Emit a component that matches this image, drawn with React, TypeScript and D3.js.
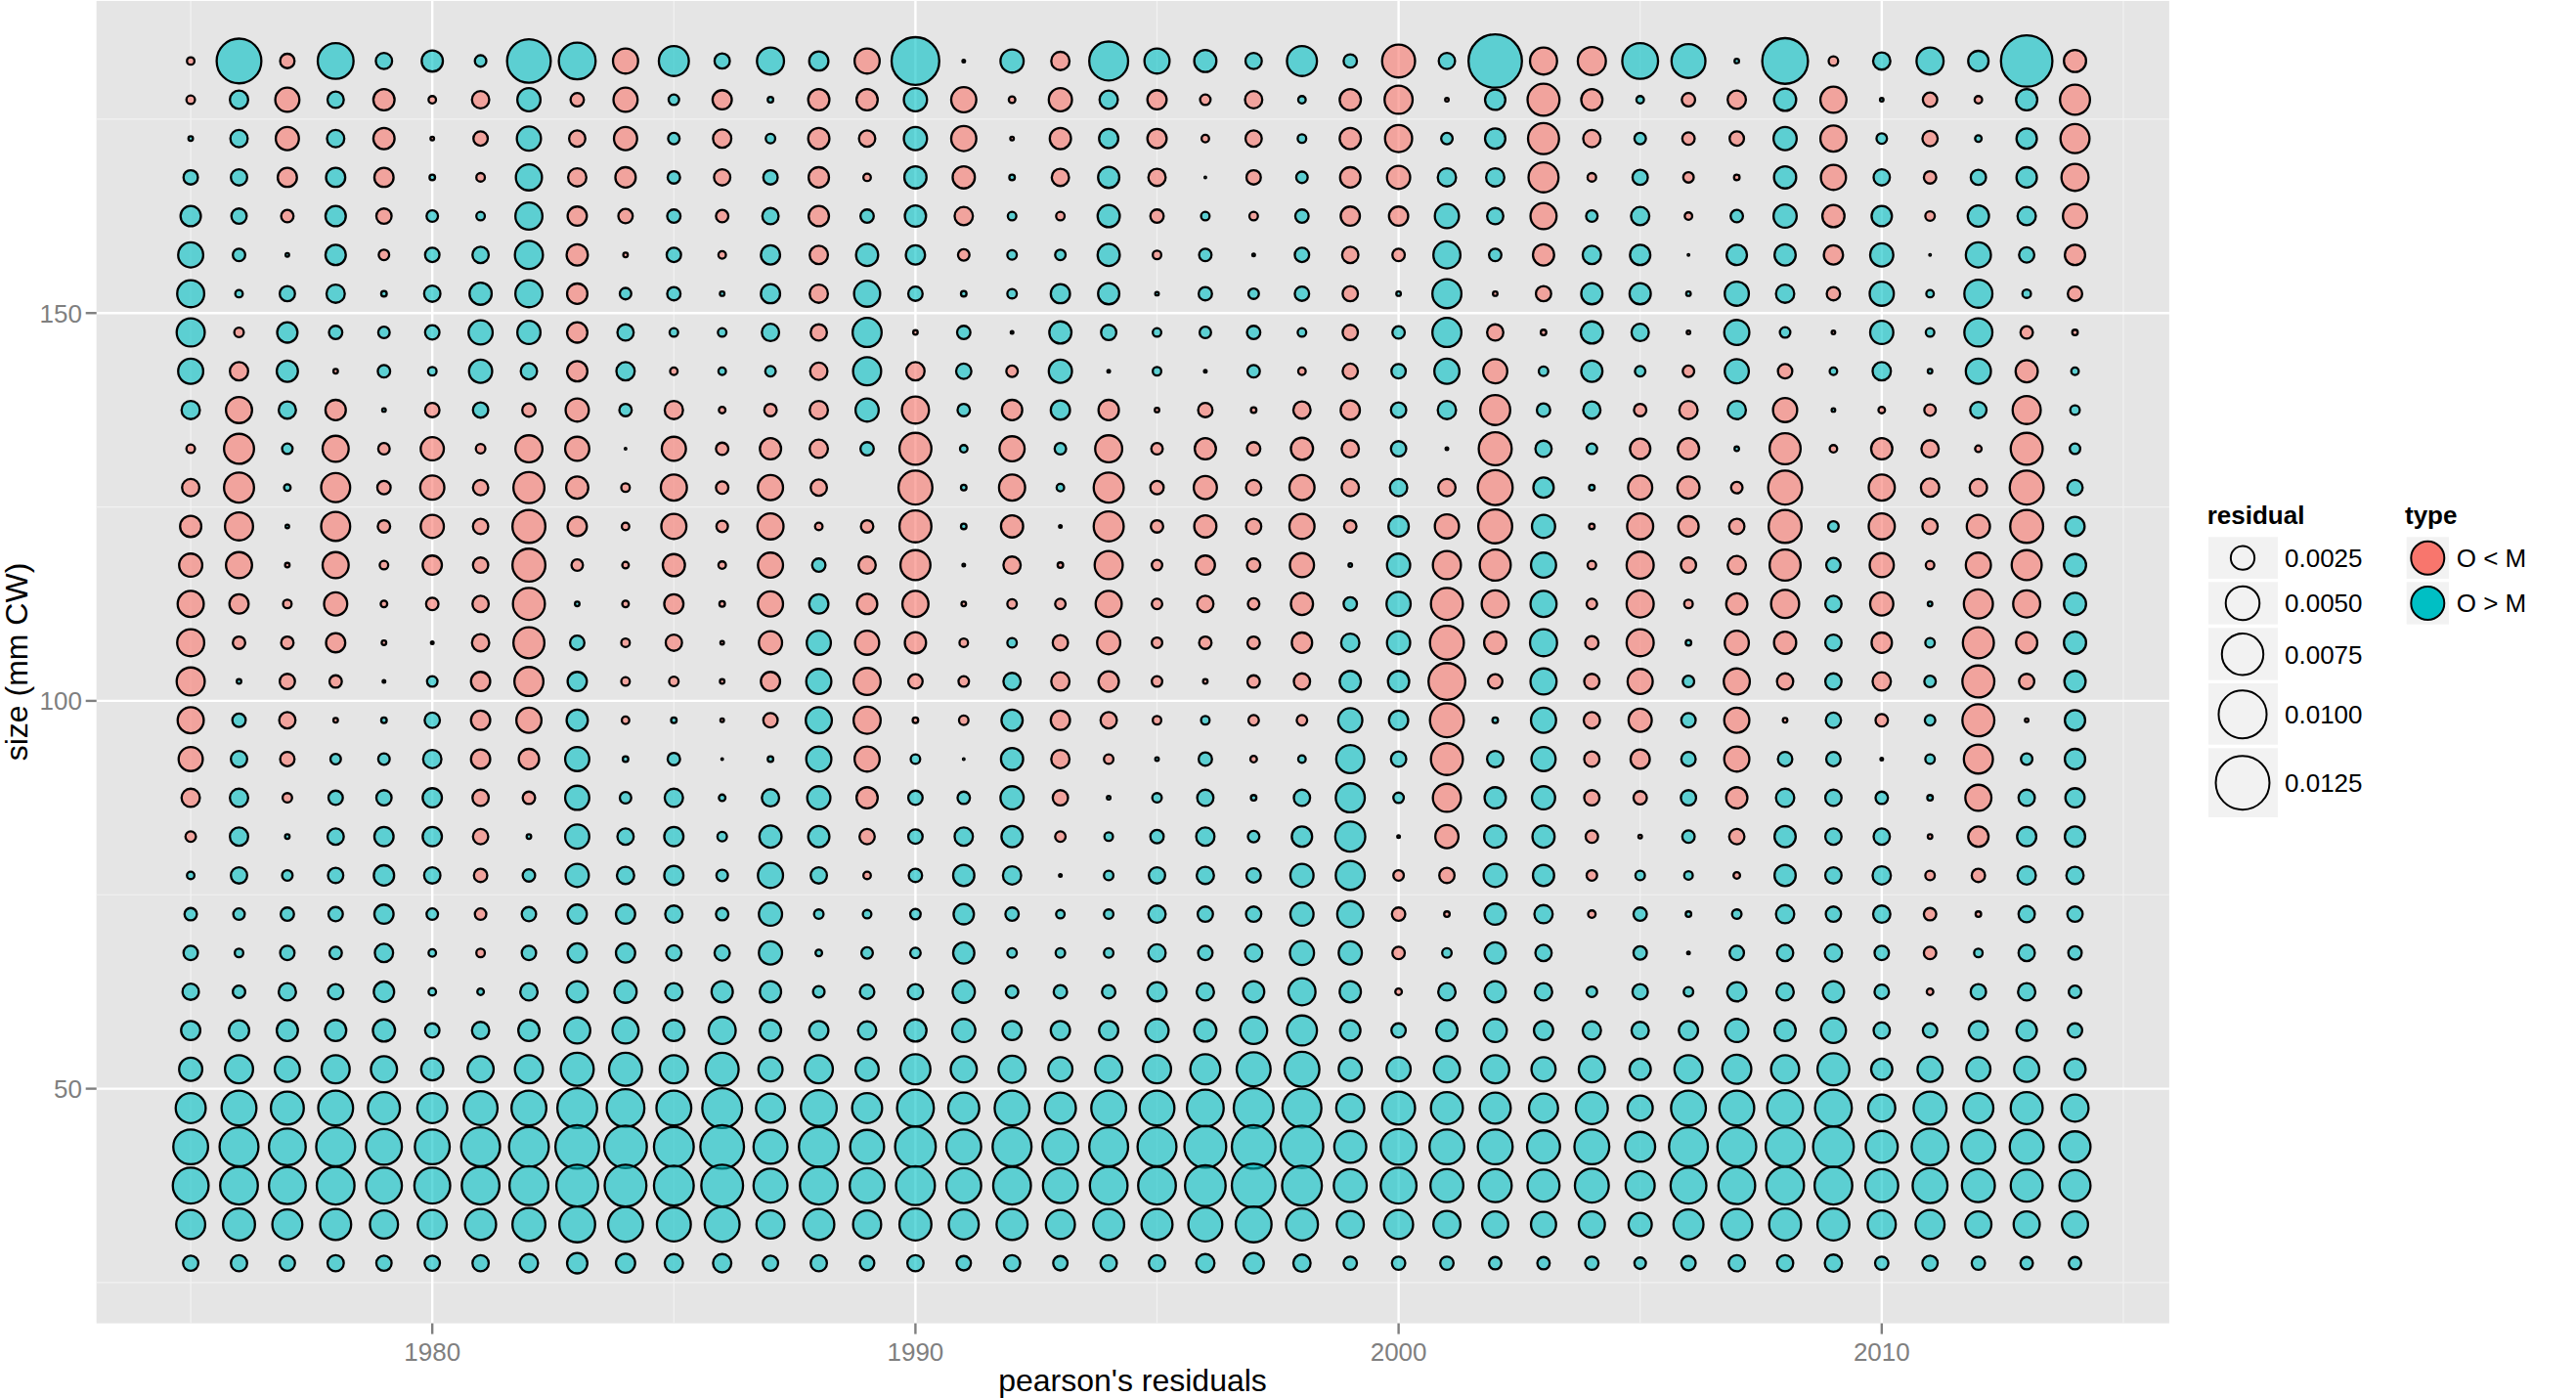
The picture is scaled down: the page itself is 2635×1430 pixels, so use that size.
import React from "react";
import * as d3 from "d3";

// Values: residual x 1e-4; negative = O < M, positive = O > M, 0 = no point.
const years = d3.range(1975, 2015);
const r182_5 = [-2.9,88,-9.8,57,12.4,20.6,6.4,84,60,-28.5,40.3,11,33,17,-28.5,100,.5,24.4,-15.5,67,28.5,22.4,12.4,40.3,8.5,-48.4,12.4,125,-33,-35.4,57,51.2,1.2,92,-4.5,13.9,33,19,116,-22.4];
const r177_5 = [-3.7,15.5,-26.4,12.4,-20.6,-2.9,-13.9,24.4,-8.5,-26.4,5.4,-17,1.7,-20.6,-20.6,24.4,-28.5,-2.3,-24.4,15.5,-17,-5.4,-13.9,2.9,-20.6,-35.4,-.8,19,-45.6,-20.6,2.9,-8.5,-15.5,22.4,-30.7,.8,-9.8,-2.9,20.6,-40.3];
const r172_5 = [1.2,13.9,-24.4,13.9,-20.6,-.8,-9.8,26.4,-12.4,-24.4,6.4,-15.5,4.5,-20.6,-12.4,24.4,-28.5,-.8,-20.6,17,-17,-2.9,-12.4,3.7,-20.6,-33,6.4,19,-43,-13.9,6.4,-7.4,-9.8,24.4,-30.7,5.4,-11,2.3,19,-37.8];
const r167_5 = [9.8,12.4,-17,17,-17,1.7,-3.7,30.7,-15.5,-19,7.4,-12.4,9.8,-19,-2.9,22.4,-22.4,1.7,-13.9,20.6,-13.9,.25,-9.8,6.4,-19,-24.4,15.5,15.5,-40.3,-3.7,11,-5.4,-1.7,22.4,-28.5,12.4,-7.4,11,19,-33];
const r162_5 = [19,11,-7.4,19,-11,6.4,3.7,33,-17,-9.8,8.5,-7.4,12.4,-19,8.5,20.6,-15.5,3.7,-3.7,22.4,-8.5,3.7,-3.7,8.5,-17,-17,26.4,12.4,-30.7,6.4,15.5,-2.9,7.4,24.4,-22.4,19,-4.5,20.6,15.5,-26.4];
const r157_5 = [28.5,7.4,.8,19,-5.4,9.8,12.4,35.4,-20.6,-1.2,9.8,-2.9,17,-15.5,22.4,17,-6.4,4.5,5.4,22.4,-3.7,7.4,.5,9.8,-12.4,-7.4,33,7.4,-20.6,15.5,19,.25,19,20.6,-17,24.4,.25,28.5,11,-19];
const r152_5 = [33,2.9,11,15.5,1.7,12.4,22.4,33,-19,6.4,8.5,1.2,17,-15.5,30.7,9.8,1.7,4.5,17,20.6,.8,8.5,5.4,9.8,-11,1.2,37.8,-1.2,-11,20.6,20.6,1.2,26.4,15.5,-8.5,26.4,2.9,35.4,3.7,-9.8];
const r147_5 = [35.4,-4.5,19,8.5,6.4,9.8,26.4,24.4,-19,12.4,3.7,3.7,13.9,-12.4,37.8,-1.2,8.5,.5,22.4,11,3.7,6.4,8.5,3.7,-11,7.4,37.8,-12.4,-1.7,22.4,13.9,-.8,28.5,5.4,-.8,24.4,3.7,35.4,-7.4,-1.7];
const r142_5 = [28.5,-15.5,20.6,-1.2,7.4,3.7,24.4,12.4,-19,15.5,-2.9,2.9,5.4,-13.9,35.4,-15.5,11,-6.4,24.4,.5,3.7,.5,7.4,-2.9,-11,9.8,28.5,-26.4,4.5,20.6,5.4,-6.4,26.4,-9.8,2.9,15.5,1.2,28.5,-22.4,2.9];
const r137_5 = [15.5,-30.7,13.9,-19,.8,-9.8,11,-8.5,-24.4,7.4,-15.5,-2.3,-7.4,-15.5,24.4,-33,7.4,-19,17,-19,-1.2,-9.8,-1.7,-13.9,-17,11,15.5,-40.3,8.5,13.9,-7.4,-15.5,15.5,-26.4,.8,-2.3,-6.4,12.4,-35.4,4.5];
const r132_5 = [-3.7,-40.3,5.4,-30.7,-6.4,-24.4,-4.5,-33,-26.4,.25,-26.4,-7.4,-20.6,-15.5,8.5,-45.6,2.9,-28.5,6.4,-33,-6.4,-20.6,-8.5,-22.4,-13.9,11,-.5,-48.4,12.4,5.4,-19,-20.6,1.2,-43,-2.9,-20.6,-13.9,-2.3,-45.6,5.4];
const r127_5 = [-13.9,-40.3,2.3,-37.8,-8.5,-26.4,-11,-43,-22.4,-3.7,-30.7,-7.4,-28.5,-12.4,0,-51.2,1.7,-30.7,2.9,-40.3,-8.5,-24.4,-11,-28.5,-13.9,13.9,-13.9,-54,19,1.7,-26.4,-22.4,-6.4,-51.2,0,-30.7,-15.5,-13.9,-51.2,11];
const r122_5 = [-20.6,-35.4,.8,-37.8,-7.4,-24.4,-11,-48.4,-17,-2.9,-28.5,-6.4,-30.7,-2.9,-7.4,-45.6,1.7,-22.4,.5,-40.3,-7.4,-22.4,-11,-28.5,-7.4,19,-26.4,-51.2,24.4,-1.7,-30.7,-19,-11,-48.4,5.4,-30.7,-11,-24.4,-48.4,17];
const r117_5 = [-24.4,-30.7,-1.2,-30.7,-3.7,-17,-11,-48.4,-6.4,-2.3,-22.4,-2.9,-28.5,8.5,-13.9,-40.3,.5,-13.9,-1.7,-35.4,-5.4,-17,-8.5,-26.4,.8,24.4,-35.4,-43,28.5,-3.7,-33,-11,-15.5,-43,9.8,-26.4,-3.7,-28.5,-40.3,22.4];
const r112_5 = [-30.7,-17,-3.7,-24.4,-2.3,-7.4,-12.4,-45.6,1.2,-2.3,-17,-1.7,-28.5,17,-19,-30.7,-1.2,-4.5,-5.4,-30.7,-5.4,-12.4,-6.4,-22.4,8.5,26.4,-45.6,-33,30.7,-5.4,-33,-3.7,-20.6,-35.4,12.4,-24.4,1.2,-37.8,-33,22.4];
const r107_5 = [-33,-7.4,-7.4,-17,-1.2,-.5,-13.9,-43,9.8,-3.7,-12.4,-.8,-24.4,26.4,-26.4,-20.6,-3.7,4.5,-11,-24.4,-5.4,-7.4,-7.4,-19,15.5,24.4,-51.2,-22.4,33,-8.5,-33,1.7,-26.4,-22.4,12.4,-19,4.5,-43,-20.6,22.4];
const r102_5 = [-35.4,1.2,-11,-7.4,.5,5.4,-17,-37.8,17,-3.7,-4.5,-1.2,-17,28.5,-33,-9.8,-5.4,13.9,-15.5,-19,-5.4,-1.2,-7.4,-12.4,20.6,20.6,-60,-9.8,30.7,-11,-28.5,6.4,-30.7,-12.4,12.4,-15.5,6.4,-45.6,-11,20.6];
const r97_5 = [-30.7,8.5,-12.4,-1.2,1.7,11,-17,-28.5,20.6,-2.9,1.7,-.8,-9.8,30.7,-33,-1.7,-4.5,20.6,-17,-12.4,-3.7,3.7,-5.4,-5.4,26.4,17,-51.2,1.7,28.5,-12.4,-24.4,9.8,-28.5,-1.2,11,-7.4,5.4,-45.6,-.8,19];
const r92_5 = [-26.4,12.4,-9.8,5.4,6.4,15.5,-17,-19,26.4,1.7,7.4,.25,1.7,28.5,-28.5,4.5,.25,22.4,-15.5,-4.5,.8,8.5,-2.3,2.9,35.4,11,-45.6,12.4,26.4,-11,-17,9.8,-28.5,9.8,9.8,.5,4.5,-37.8,6.4,19];
const r87_5 = [-15.5,15.5,-4.5,9.8,11,17,-12.4,-7.4,26.4,6.4,15.5,2.3,13.9,24.4,-20.6,9.8,7.4,24.4,-11,.8,4.5,12.4,1.7,12.4,37.8,5.4,-35.4,20.6,24.4,-11,-8.5,11,-20.6,15.5,12.4,7.4,1.7,-30.7,12.4,17];
const r82_5 = [-5.4,15.5,1.2,12.4,17,17,-11,1.2,26.4,12.4,17,4.5,22.4,20.6,-11,9.8,15.5,20.6,-5.4,3.7,8.5,15.5,6.4,19,40.3,.5,-24.4,22.4,22.4,-7.4,-.8,7.4,-11,20.6,12.4,12.4,-1.2,-19,17,19];
const r77_5 = [2.9,12.4,5.4,11,19,12.4,-8.5,7.4,24.4,13.9,17,6.4,28.5,12.4,-2.9,8.5,20.6,15.5,.5,4.5,12.4,13.9,9.8,24.4,37.8,-5.4,-11,24.4,20.6,-5.4,4.5,3.7,-2.3,20.6,12.4,15.5,-4.5,-8.5,15.5,13.9];
const r72_5 = [7.4,6.4,8.5,9.8,17,6.4,-6.4,9.8,17,17,13.9,7.4,24.4,4.5,3.7,5.4,19,8.5,3.7,4.5,13.9,11,11,24.4,30.7,-8.5,-1.7,20.6,15.5,-2.9,8.5,1.7,4.5,15.5,11,13.9,-7.4,-1.7,12.4,11];
const r67_5 = [9.8,3.7,9.8,7.4,15.5,2.9,-3.7,9.8,17,17,11,11,24.4,2.3,6.4,5.4,20.6,4.5,4.5,4.5,13.9,9.8,13.9,26.4,24.4,-7.4,4.5,20.6,12.4,0,8.5,.5,9.8,12.4,13.9,9.8,-7.4,3.7,12.4,8.5];
const r62_5 = [12.4,7.4,13.9,11,19,2.9,2.3,13.9,20.6,22.4,13.9,20.6,20.6,6.4,9.8,11,22.4,7.4,8.5,8.5,17,13.9,20.6,33,20.6,-2.3,13.9,20.6,13.9,5.4,11,4.5,17,13.9,20.6,9.8,-2.3,11,13.9,7.4];
const r57_5 = [17,19,20.6,20.6,22.4,9.8,13.9,20.6,30.7,30.7,20.6,33,20.6,17,15.5,22.4,24.4,17,17,17,24.4,22.4,33,40.3,19,9.8,20.6,24.4,17,15.5,13.9,17,24.4,20.6,28.5,12.4,9.8,17,19,9.8];
const r52_5 = [24.4,35.4,28.5,35.4,30.7,22.4,30.7,35.4,48.4,48.4,35.4,48.4,26.4,35.4,24.4,40.3,30.7,33,26.4,33,35.4,40.3,51.2,54,24.4,26.4,30.7,35.4,26.4,30.7,20.6,35.4,37.8,35.4,45.6,20.6,28.5,26.4,28.5,20.6];
const r47_5 = [40.3,54,48.4,54,45.6,40.3,51.2,54,70,63,54,70,37.8,57,40.3,60,43,54,43,54,54,60,70,67,35.4,48.4,45.6,43,37.8,45.6,28.5,54,54,57,60,33,48.4,40.3,45.6,33];
const r42_5 = [54,67,60,67,57,54,67,70,84,80,70,84,51.2,70,51.2,73,54,67,57,67,67,77,84,80,45.6,57,54,54,48.4,54,40.3,67,67,67,73,45.6,60,51.2,51.2,43];
const r37_5 = [57,63,60,63,57,57,63,67,77,77,70,77,51.2,63,54,67,54,63,54,63,63,73,84,70,48.4,57,48.4,48.4,45.6,51.2,37.8,57,60,63,63,48.4,54,48.4,45.6,43];
const r32_5 = [37.8,45.6,40.3,43,35.4,37.8,43,48.4,57,54,51.2,54,35.4,43,35.4,45.6,40.3,43,37.8,43,43,51.2,57,45.6,33,37.8,33,30.7,28.5,30.7,24.4,40.3,43,45.6,45.6,35.4,37.8,30.7,30.7,30.7];
const r27_5 = [11,12.4,11,12.4,11,11,12.4,15.5,19,17,15.5,15.5,11,12.4,9.8,12.4,9.8,12.4,9.8,12.4,12.4,15.5,19,13.9,8.5,8.5,8.5,7.4,7.4,8.5,6.4,9.8,12.4,12.4,13.9,8.5,11,8.5,7.4,7.4];

const sizeBins = [182.5,177.5,172.5,167.5,162.5,157.5,152.5,147.5,142.5,137.5,132.5,127.5,122.5,117.5,112.5,107.5,102.5,97.5,92.5,87.5,82.5,77.5,72.5,67.5,62.5,57.5,52.5,47.5,42.5,37.5,32.5,27.5];
const rows = [r182_5,r177_5,r172_5,r167_5,r162_5,r157_5,r152_5,r147_5,r142_5,r137_5,r132_5,r127_5,r122_5,r117_5,r112_5,r107_5,r102_5,r97_5,r92_5,r87_5,r82_5,r77_5,r72_5,r67_5,r62_5,r57_5,r52_5,r47_5,r42_5,r37_5,r32_5,r27_5];

const xMajor = [1980, 1990, 2000, 2010];
const xMinor = [1975, 1985, 1995, 2005, 2015];
const yMajor = [50, 100, 150];
const yMinor = [25, 75, 125, 175];
const legendBreaks = [25, 50, 75, 100, 125];
const legendLabels = ["0.0025", "0.0050", "0.0075", "0.0100", "0.0125"];
const typeLabels = ["O < M", "O > M"];

const W = 2635, H = 1430;
const SALMON = "#F8766D", TEAL = "#00BFC4";
const FONT = "'Liberation Sans', Arial, Helvetica, sans-serif";
const SW = 2.3;

export default function App() {
  const x = d3.scaleLinear().domain([1973.05, 2015.95]).range([98.7, 2218.9]);
  const y = d3.scaleLinear().domain([19.75, 190.25]).range([1353.6, 0.9]);
  // outer diameter grows with the root of the residual (ggplot area scale)
  const diam = d3.scaleLinear().domain([0, Math.sqrt(125)]).range([1.5, 1.5 + 24.8 * Math.sqrt(5)]);
  const D = (v: number) => diam(Math.sqrt(Math.abs(v)));
  const radius = (v: number, sw: number) => Math.max(0.3, (D(v) - sw) / 2);

  const keyBoxes = [
    { y0: 549.3, y1: 592, cy: 570.7 },
    { y0: 595.3, y1: 638.7, cy: 617 },
    { y0: 642.3, y1: 695.7, cy: 669.3 },
    { y0: 699, y1: 761.7, cy: 730.7 },
    { y0: 765.3, y1: 836, cy: 800.7 },
  ];

  return (
    <svg width={W} height={H} viewBox={`0 0 ${W} ${H}`} style={{ position: "absolute", left: 0, top: 0, display: "block" }} fontFamily={FONT}>
      <rect x={0} y={0} width={W} height={H} fill="#fff" />
      <rect x={x.range()[0]} y={y.range()[1]} width={x.range()[1] - x.range()[0]} height={y.range()[0] - y.range()[1]} fill="#E5E5E5" />
      {xMinor.map((v) => <line key={"xm" + v} x1={x(v)} x2={x(v)} y1={y.range()[0]} y2={y.range()[1]} stroke="#F2F2F2" strokeWidth={1.2} />)}
      {yMinor.map((v) => <line key={"ym" + v} y1={y(v)} y2={y(v)} x1={x.range()[0]} x2={x.range()[1]} stroke="#F2F2F2" strokeWidth={1.2} />)}
      {xMajor.map((v) => <line key={"xM" + v} x1={x(v)} x2={x(v)} y1={y.range()[0]} y2={y.range()[1]} stroke="#fff" strokeWidth={2.4} />)}
      {yMajor.map((v) => <line key={"yM" + v} y1={y(v)} y2={y(v)} x1={x.range()[0]} x2={x.range()[1]} stroke="#fff" strokeWidth={2.4} />)}

      {rows.map((row, ri) => row.map((v, ci) => v === 0 ? null : (
        <circle key={ri + "-" + ci} cx={x(years[ci])} cy={y(sizeBins[ri])} r={radius(v, SW)}
          fill={v < 0 ? SALMON : TEAL} fillOpacity={0.6} stroke="#000" strokeWidth={SW} />
      )))}

      {xMajor.map((v) => (
        <g key={"xt" + v}>
          <line x1={x(v)} x2={x(v)} y1={y.range()[0]} y2={y.range()[0] + 11} stroke="#7F7F7F" strokeWidth={2.4} />
          <text x={x(v)} y={1391.7} textAnchor="middle" fontSize={26} fill="#7F7F7F">{v}</text>
        </g>
      ))}
      {yMajor.map((v) => (
        <g key={"yt" + v}>
          <line x1={x.range()[0] - 11} x2={x.range()[0]} y1={y(v)} y2={y(v)} stroke="#7F7F7F" strokeWidth={2.4} />
          <text x={84} y={y(v) + 9.3} textAnchor="end" fontSize={26} fill="#7F7F7F">{v}</text>
        </g>
      ))}
      <text x={1158.5} y={1423} textAnchor="middle" fontSize={32} fill="#000">pearson's residuals</text>
      <text transform="translate(28,677) rotate(-90)" textAnchor="middle" fontSize={32} fill="#000">size (mm CW)</text>

      <text x={2257.7} y={536} fontSize={26} fontWeight="bold" fill="#000">residual</text>
      {legendBreaks.map((b, i) => (
        <g key={"ls" + b}>
          <rect x={2259} y={keyBoxes[i].y0} width={71} height={keyBoxes[i].y1 - keyBoxes[i].y0} fill="#F2F2F2" />
          <circle cx={2294} cy={keyBoxes[i].cy} r={radius(b, 2)} fill="none" stroke="#000" strokeWidth={2} />
          <text x={2337} y={keyBoxes[i].cy + 9.3} fontSize={26} fill="#000">{legendLabels[i]}</text>
        </g>
      ))}
      <text x={2460} y={536} fontSize={26} fontWeight="bold" fill="#000">type</text>
      {typeLabels.map((t, i) => (
        <g key={t}>
          <rect x={2461.7} y={keyBoxes[i].y0} width={43.3} height={keyBoxes[i].y1 - keyBoxes[i].y0} fill="#F2F2F2" />
          <circle cx={2483.3} cy={keyBoxes[i].cy} r={17} fill={i === 0 ? SALMON : TEAL} stroke="#000" strokeWidth={2} />
          <text x={2512.7} y={keyBoxes[i].cy + 9.3} fontSize={26} fill="#000">{t}</text>
        </g>
      ))}
    </svg>
  );
}
